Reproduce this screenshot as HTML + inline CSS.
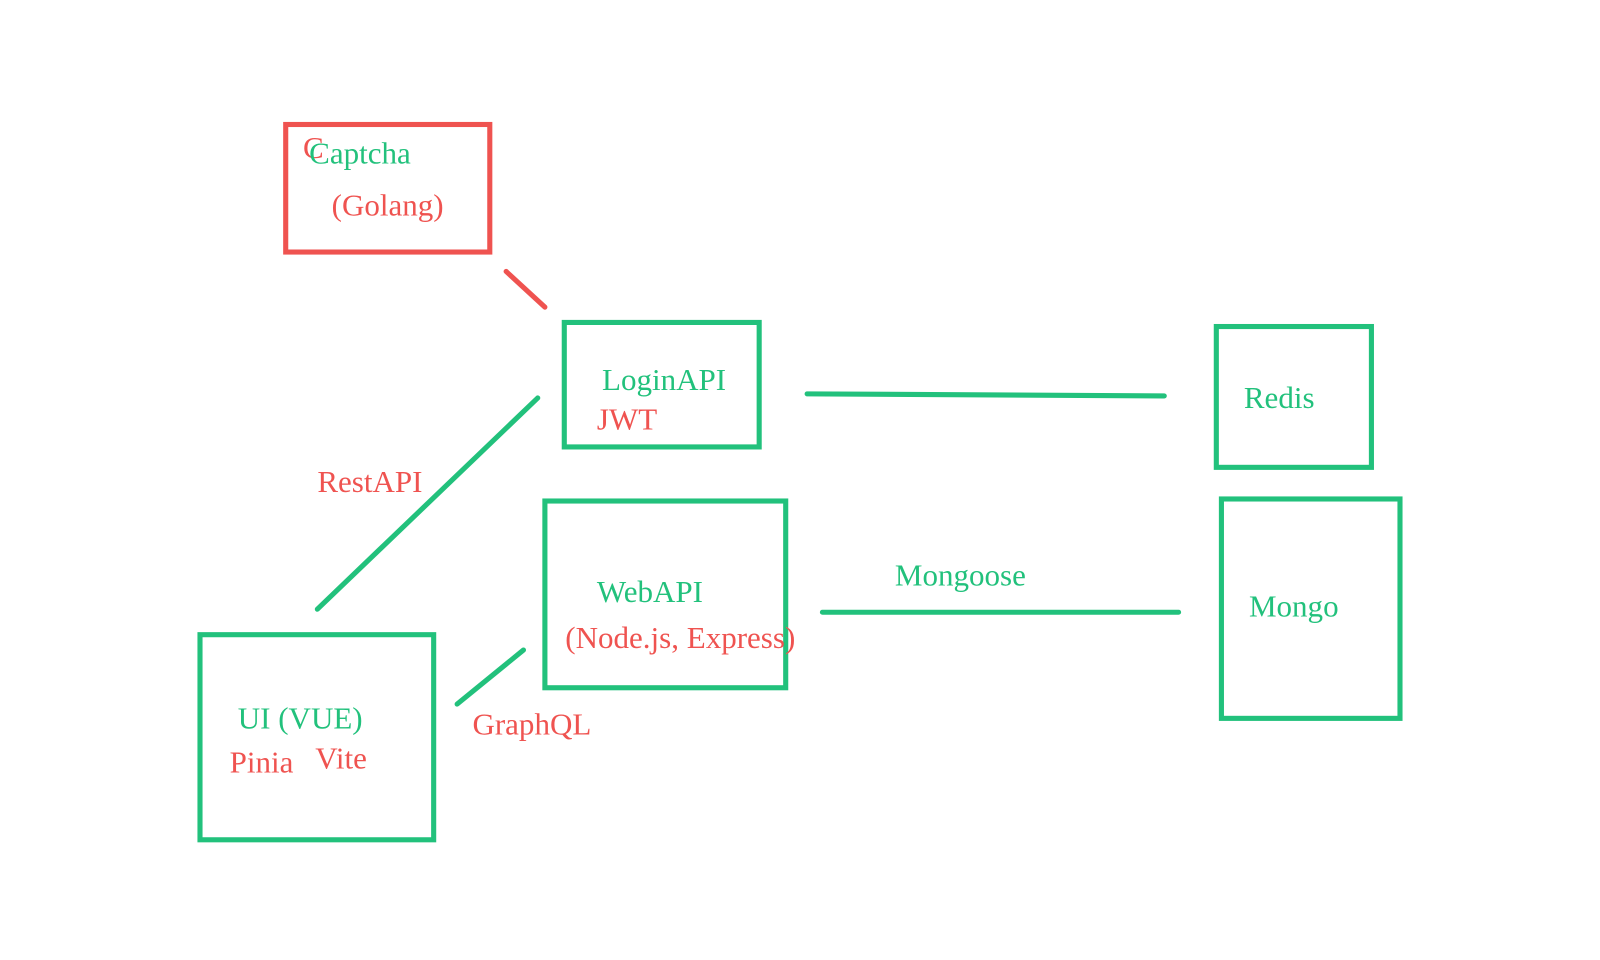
<!DOCTYPE html>
<html><head><style>html,body{margin:0;padding:0;background:#fff}svg{display:block}</style></head>
<body>
<svg width="1600" height="960" xmlns="http://www.w3.org/2000/svg" font-family="'Liberation Serif', serif" font-size="30.4">
<g transform="scale(1.0204)">
<g fill="none" stroke-width="5" stroke-linecap="round">
<rect x="280" y="122" width="200" height="125" stroke="#ef5350"/>
<line x1="496" y1="266" x2="534" y2="301" stroke="#ef5350"/>
<g stroke="#22c17c">
<rect x="553" y="316" width="191" height="122"/>
<rect x="1192" y="320" width="152" height="138"/>
<rect x="534" y="491" width="236" height="183"/>
<rect x="1197" y="489" width="175" height="215"/>
<rect x="196" y="622" width="229" height="201"/>
<line x1="791" y1="386" x2="1141" y2="388"/>
<line x1="527" y1="390" x2="311" y2="597"/>
<line x1="806" y1="600" x2="1155" y2="600"/>
<line x1="448" y1="690" x2="513" y2="637"/>
</g>
</g>
<g fill="#ef5350">
<text x="297" y="155">C</text>
<text x="325" y="211">(Golang)</text>
<text x="585" y="421">JWT</text>
<text x="311" y="482">RestAPI</text>
<text x="554" y="635">(Node.js, Express)</text>
<text x="225" y="757">Pinia</text>
<text x="309" y="753">Vite</text>
<text x="463" y="720">GraphQL</text>
</g>
<g fill="#22c17c">
<text x="303" y="160">Captcha</text>
<text x="590" y="382">LoginAPI</text>
<text x="1219" y="400">Redis</text>
<text x="585" y="590">WebAPI</text>
<text x="877" y="574">Mongoose</text>
<text x="1224" y="604">Mongo</text>
<text x="233" y="714">UI (VUE)</text>
</g>
</g>
</svg>
</body></html>
